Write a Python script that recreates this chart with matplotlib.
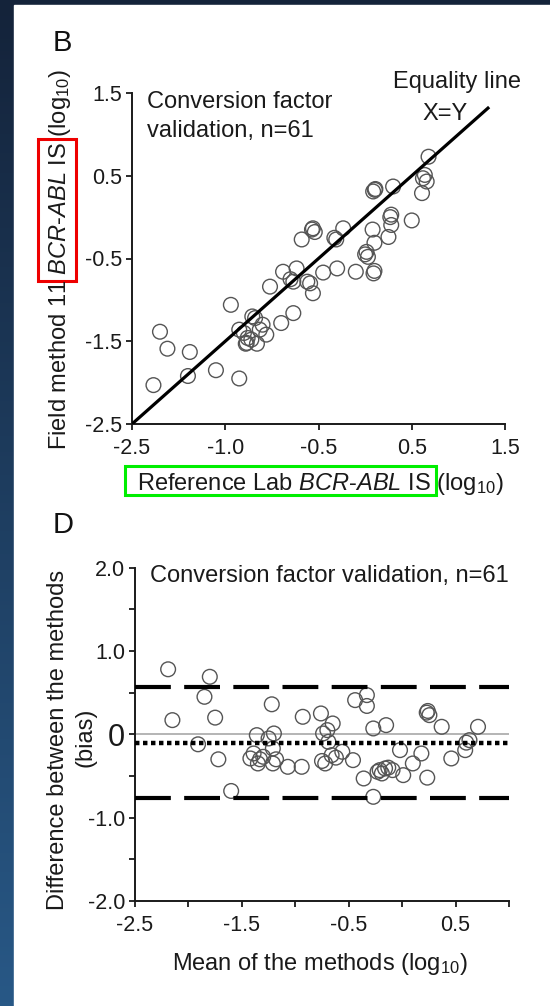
import numpy as np
import matplotlib
matplotlib.use("Agg")
import matplotlib.pyplot as plt
from matplotlib.patches import Rectangle
from matplotlib.colors import LinearSegmentedColormap

plt.rcParams['font.family'] = ['Liberation Sans', 'DejaVu Sans']
plt.rcParams['mathtext.fontset'] = 'custom'
plt.rcParams['mathtext.rm'] = 'Liberation Sans'
plt.rcParams['mathtext.it'] = 'Liberation Sans:italic'
plt.rcParams['axes.unicode_minus'] = False

# panel B: reference lab vs field method (log10)
ref_lab = [-2.27, -2.20, -2.12, -1.88, -1.90, -1.60, -1.35, -1.44, -1.35, -1.28,
           -1.26, -1.21, -1.16, -1.13, -1.06, -1.02, -0.90, -0.77, -0.88, -0.77,
           -0.735, -0.68, -0.56, -0.54, -0.59, -0.56, -0.45, -0.30, -0.235, -0.31,
           -0.10, 0.09, 0.015, 0.03, 0.10, 0.08, 0.25, 0.28, 0.28, 0.50,
           0.104, 0.086, 0.30, 0.61, 0.64, 0.66, 0.68, -1.22, -1.30, -0.62,
           0.00, 0.11, -0.57, -1.10, 0.27, 0.62, -0.80, 0.10, -0.33, -1.18, -1.27]
field = [-2.03, -1.385, -1.59, -1.63, -1.92, -1.85, -1.95, -1.06, -1.36, -1.53,
         -1.46, -1.20, -1.53, -1.36, -1.42, -0.84, -1.28, -1.16, -0.66, -0.78,
         -0.62, -0.27, -0.135, -0.18, -0.80, -0.92, -0.67, -0.62, -0.135, -0.27,
         -0.66, -0.68, -0.42, -0.48, -0.31, -0.15, -0.24, 0.03, -0.095, -0.04,
         0.33, 0.31, 0.37, 0.29, 0.51, 0.43, 0.73, -1.48, -1.40, -0.78,
         -0.45, 0.34, -0.15, -1.30, 0.00, 0.47, -0.75, -0.65, -0.25, -1.22, -1.52]
equality = [-2.5, 1.33]

b_xticks = [-2.5, -1.5, -0.5, 0.5, 1.5]
b_xticklabels = ['-2.5', '-1.0', '-0.5', '0.5', '1.5']
b_yticks = [1.5, 0.5, -0.5, -1.5, -2.5]
b_yticklabels = ['1.5', '0.5', '-0.5', '-1.5', '-2.5']

# panel D: Bland-Altman
mean_methods = [-2.19, -2.15, -1.91, -1.80, -1.85, -1.75, -1.72, -1.60, -1.36, -1.39,
                -1.42, -1.35, -1.30, -1.22, -1.20, -1.21, -1.21, -1.07, -0.94, -0.93,
                -0.76, -0.65, -0.74, -0.69, -0.66, -0.72, -0.56, -0.46, -0.44, -0.33,
                -0.33, -0.36, -0.27, -0.15, -0.27, -0.21, -0.16, -0.19, -0.09, -0.02,
                0.01, 0.18, 0.10, 0.235, 0.23, 0.255, 0.37, 0.46, 0.59, 0.63,
                0.71, -1.25, -1.33, -0.70, -0.23, -0.13, 0.24, -0.62, -1.18, -0.75, 0.60]
diff_methods = [0.78, 0.17, -0.12, 0.69, 0.45, 0.20, -0.30, -0.68, -0.01, -0.23,
                -0.29, -0.35, -0.27, 0.36, 0.01, -0.17, -0.35, -0.39, -0.39, 0.21,
                0.25, 0.13, 0.01, -0.09, -0.25, -0.35, -0.21, -0.31, 0.41, 0.47,
                0.34, -0.53, 0.07, 0.11, -0.75, -0.43, -0.41, -0.47, -0.43, -0.19,
                -0.49, -0.23, -0.35, -0.52, 0.26, 0.23, 0.09, -0.29, -0.19, -0.07,
                0.09, -0.05, -0.30, 0.05, -0.45, -0.40, 0.28, -0.28, -0.30, -0.32, -0.10]
upper_loa = 0.57
lower_loa = -0.76
mean_bias = -0.10

d_xticks = [-2.5, -2.0, -1.5, -1.0, -0.5, 0.0, 0.5, 1.0]
d_xticklabels = ['-2.5', '', '-1.5', '', '-0.5', '', '0.5', '']
d_yticks = [2.0, 1.0, 0.0, -1.0, -2.0]
d_yticklabels = ['2.0', '1.0', '0', '-1.0', '-2.0']
d_yminor = [1.5, 0.5, -0.5, -1.5]

W, H = 550, 1006
FS = 17


def fx(x):
    return x / W


def fy(y):
    return 1 - y / H


fig = plt.figure(figsize=(W / 100, H / 100), dpi=100)

# dark blue slide background with white panel
bg = fig.add_axes([0, 0, 1, 1], zorder=-10)
cmap = LinearSegmentedColormap.from_list('bg', ['#285886', '#14233a'])
bg.imshow(np.linspace(0, 1, 256).reshape(-1, 1), aspect='auto', cmap=cmap,
          extent=[0, 1, 0, 1], origin='lower')
bg.add_patch(Rectangle((fx(14), 0), 1, fy(5), color='white', transform=bg.transAxes))
bg.set_xlim(0, 1)
bg.set_ylim(0, 1)
bg.axis('off')


def style(ax):
    for s in ['top', 'right']:
        ax.spines[s].set_visible(False)
    for s in ['left', 'bottom']:
        ax.spines[s].set_linewidth(1.4)
        ax.spines[s].set_color('#1a1a1a')
    ax.set_facecolor('none')
    ax.tick_params(which='both', direction='out', length=4, width=1.3,
                   color='#1a1a1a', labelsize=15.5, labelcolor='#1a1a1a')
    ax.tick_params(axis='y', which='both', pad=3)
    ax.tick_params(axis='x', which='both', pad=6)


# ---- panel B ----
axB = fig.add_axes([fx(132), fy(424), (505 - 132) / W, (424 - 93) / H])
style(axB)
axB.plot(equality, equality, color='black', lw=2.3, solid_capstyle='butt', zorder=3)
axB.scatter(ref_lab, field, s=112, facecolors='none', edgecolors='#555555',
            linewidths=1.0, zorder=2)
axB.set_xlim(-2.5, 1.5)
axB.set_ylim(-2.5, 1.5)
axB.set_xticks(b_xticks, b_xticklabels)
axB.set_yticks(b_yticks, b_yticklabels)

fig.text(fx(53), fy(51), 'B', fontsize=21, color='#111111')
fig.text(fx(147), fy(108), 'Conversion factor', fontsize=FS, va='baseline', color='#1a1a1a')
fig.text(fx(147), fy(137), 'validation, n=61', fontsize=FS, va='baseline', color='#1a1a1a')
fig.text(fx(457), fy(88), 'Equality line', fontsize=FS, ha='center', va='baseline', color='#1a1a1a')
fig.text(fx(445), fy(120), 'X=Y', fontsize=FS, ha='center', va='baseline', color='#1a1a1a')

itl = r'$\mathit{BCR}$-$\mathit{ABL}$ IS'
log10 = r' (log$_{10}$)'
kw_h = dict(fontsize=FS, ha='left', va='baseline', rotation_mode='anchor', color='#1a1a1a')
xl_full = fig.text(fx(137), fy(490), 'Reference Lab ' + itl + log10, **kw_h)
xl_box = fig.text(fx(137), fy(490), 'Reference Lab ' + itl, alpha=0, **kw_h)

kw_v = dict(fontsize=FS, ha='left', va='baseline', rotation=90, rotation_mode='anchor',
            color='#1a1a1a')
yl_full = fig.text(fx(66), fy(450), 'Field method 11 ' + itl + log10, **kw_v)
yl_pre = fig.text(fx(66), fy(450), 'Field method 11', alpha=0, **kw_v)
yl_box = fig.text(fx(66), fy(450), 'Field method 11 ' + itl, alpha=0, **kw_v)

# ---- panel D ----
axD = fig.add_axes([fx(135), fy(901), (509 - 135) / W, (901 - 567.6) / H])
style(axD)
axD.axhline(0, color='#a8a8a8', lw=1.2, zorder=1)
axD.scatter(mean_methods, diff_methods, s=112, facecolors='none', edgecolors='#555555',
            linewidths=1.0, zorder=2)
axD.axhline(upper_loa, color='black', lw=3, ls=(0, (8.6, 3.2)), zorder=3)
axD.axhline(lower_loa, color='black', lw=3, ls=(0, (8.6, 3.2)), zorder=3)
axD.axhline(mean_bias, color='black', lw=3.2, ls=(0, (1.0, 0.8)), zorder=3)
axD.set_xlim(-2.5, 1.0)
axD.set_ylim(-2.0, 2.0)
axD.set_xticks(d_xticks, d_xticklabels)
axD.set_yticks(d_yticks, d_yticklabels)
axD.set_yticks(d_yminor, minor=True)
axD.get_yticklabels()[2].set_fontsize(22)

fig.text(fx(53), fy(533), 'D', fontsize=21, color='#111111')
fig.text(fx(150), fy(582), 'Conversion factor validation, n=61', fontsize=FS,
         va='baseline', color='#1a1a1a')
fig.text(fx(58), fy(740), 'Difference between the methods', fontsize=FS,
         rotation=90, ha='center', va='center', color='#1a1a1a')
fig.text(fx(86), fy(737), '(bias)', fontsize=FS,
         rotation=90, ha='center', va='center', color='#1a1a1a')
fig.text(fx(320), fy(970), r'Mean of the methods (log$_{10}$)', fontsize=FS,
         ha='center', va='baseline', color='#1a1a1a')

# highlight boxes around parts of the axis labels
fig.canvas.draw()
r = fig.canvas.get_renderer()
e = xl_box.get_window_extent(r)
x0, x1 = 137 - 12, e.x1 + 5
y0, y1 = H - 495, H - 466
fig.add_artist(Rectangle((fx(x0), y0 / H), (x1 - x0) / W, (y1 - y0) / H,
                         fill=False, ec='#00ee00', lw=2.2, transform=fig.transFigure))
ep = yl_pre.get_window_extent(r)
eb = yl_box.get_window_extent(r)
bx0, bx1 = 38, 76
by0, by1 = ep.y1 + 1, eb.y1 + 3
fig.add_artist(Rectangle((fx(bx0), by0 / H), (bx1 - bx0) / W, (by1 - by0) / H,
                         fill=False, ec='#ee0000', lw=2.2, transform=fig.transFigure))

fig.savefig('out.png', dpi=100)
